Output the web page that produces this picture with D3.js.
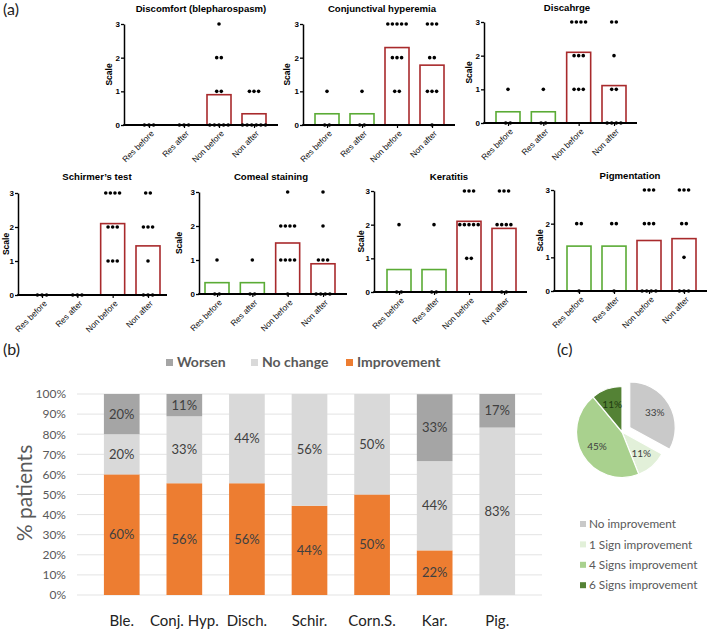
<!DOCTYPE html>
<html><head><meta charset="utf-8">
<script src="https://cdn.jsdelivr.net/npm/d3@7"></script>
<style>body{margin:0;background:#fff}svg{display:block}</style>
</head><body>
<svg id="c" width="709" height="630"></svg>
<script>
// ---------- Panel (a) data ----------
const groups = ["Res before", "Res after", "Non before", "Non after"];
const scaleTicks = [0, 1, 2, 3];
const titles = ["Discomfort (blepharospasm)", "Conjunctival hyperemia", "Discahrge",
  "Schirmer’s test", "Comeal staining", "Keratitis", "Pigmentation"];
const discomfort  = [[0,0,0], [0,0,0], [3,2,2,1,1,0,0,0,0,0], [1,1,1,0,0,0,0,0,0]];
const conjunctival = [[1,0,0], [1,0,0], [3,3,3,3,3,2,2,2,1,1], [3,3,3,2,2,1,1,1,0]];
const discharge   = [[1,0,0], [1,0,0], [3,3,3,3,2,2,2,1,1,1], [3,3,2,1,1,0,0,0,0]];
const schirmer    = [[0,0,0], [0,0,0], [3,3,3,3,2,2,2,1,1,1], [3,3,2,2,2,1,0,0,0]];
const corneal     = [[1,0,0], [1,0,0], [3,2,2,2,2,1,1,1,1,0], [3,2,1,1,1,0,0,0,0]];
const keratitis   = [[2,0,0], [2,0,0], [3,3,3,2,2,2,2,2,1,1], [3,3,3,2,2,2,2,0,0]];
const pigmentation = [[2,2,0], [2,2,0], [3,3,3,2,2,2,0,0,0,0], [3,3,3,2,2,1,0,0,0]];
const panelData = [discomfort, conjunctival, discharge, schirmer, corneal, keratitis, pigmentation];

// ---------- Panel (b) data ----------
const bCats = ["Ble.", "Conj. Hyp.", "Disch.", "Schir.", "Corn.S.", "Kar.", "Pig."];
const improvement = [60, 55.6, 55.6, 44.4, 50, 22.2, 0];
const noChange    = [20, 33.3, 44.4, 55.6, 50, 44.4, 83.3];
const worsen      = [20, 11.1, 0, 0, 0, 33.3, 16.7];
const bTicks = [0,10,20,30,40,50,60,70,80,90,100];
const bLegend = ["Worsen", "No change", "Improvement"];

// ---------- Panel (c) data ----------
const pieCats = ["No improvement", "1 Sign improvement", "4 Signs improvement", "6 Signs improvement"];
const pieVals = [33, 11, 45, 11];

// ---------- Layout ----------
const svg = d3.select("#c");
const FA = "'Liberation Sans', Arial, sans-serif";
const FB = "Lato, 'Open Sans', sans-serif";
const GREEN = "#5aab35", RED = "#a82a2c";

// chart layout: axis x, y at 3, y at 0, first & last category centres, axis end, title centre/baseline, Scale label offset
const layout = [
  {ax:124, y3:24, y0:125, c0:149, c3:254, end:278, tx:201, ty:12, sx:12},
  {ax:303, y3:24, y0:125, c0:327, c3:432, end:455, tx:382, ty:12, sx:13},
  {ax:484, y3:22, y0:123, c0:508, c3:614, end:637, tx:567, ty:11, sx:12},
  {ax:18,  y3:193, y0:295, c0:42, c3:148, end:167, tx:97, ty:180, sx:9.5},
  {ax:199, y3:192, y0:294, c0:217, c3:323, end:347, tx:271, ty:180, sx:17},
  {ax:374, y3:191, y0:292, c0:399, c3:504, end:527, tx:449, ty:180, sx:10},
  {ax:554, y3:190, y0:291, c0:579, c3:684, end:707, tx:630, ty:179, sx:11}
];

// panel labels
[["(a)",3,15],["(b)",3,355],["(c)",557,355]].forEach(([t,x,y]) =>
  svg.append("text").attr("x",x).attr("y",y).attr("font-family",FB).attr("font-size",16)
    .attr("fill","#222").text(t));

panelData.forEach((data, i) => {
  const L = layout[i];
  const g = svg.append("g");
  const x = d3.scalePoint().domain(groups).range([L.c0, L.c3]);
  const y = d3.scaleLinear().domain([0, 3]).range([L.y0, L.y3]);
  const bw = 24;
  // bars (means)
  groups.forEach((grp, j) => {
    const m = d3.mean(data[j]);
    if (m > 0) {
      g.append("rect").attr("x", x(grp) - bw/2).attr("y", y(m))
        .attr("width", bw).attr("height", y(0) - y(m))
        .attr("fill", "none").attr("stroke", j < 2 ? GREEN : RED).attr("stroke-width", 1.6);
    }
  });
  // y axis
  const ya = g.append("g").attr("transform", `translate(${L.ax},0)`)
    .call(d3.axisLeft(y).tickValues(scaleTicks).tickSize(3).tickSizeOuter(0).tickFormat(d3.format("d")));
  ya.select(".domain").attr("stroke", "#000").attr("stroke-width", 1.5);
  ya.selectAll(".tick line").attr("stroke", "#000").attr("stroke-width", 1.3);
  ya.selectAll(".tick text").attr("font-family", FA).attr("font-size", 8).attr("font-weight", "bold").attr("x", -4).attr("fill","#000");
  // x axis
  const xa = g.append("g").attr("transform", `translate(0,${L.y0})`)
    .call(d3.axisBottom(x).tickSize(3));
  xa.select(".domain").remove();
  xa.selectAll(".tick line").attr("stroke", "#000").attr("stroke-width", 1.2);
  xa.selectAll(".tick text").attr("font-family", FA).attr("font-size", 8.3).attr("fill", "#111")
    .attr("text-anchor", "end").attr("dy", "0.35em")
    .attr("transform", "translate(3,7) rotate(-45)").attr("y", 0).attr("x", 0);
  g.append("line").attr("x1", L.ax - 0.75).attr("x2", L.end).attr("y1", L.y0).attr("y2", L.y0)
    .attr("stroke", "#000").attr("stroke-width", 1.8);
  // dots
  groups.forEach((grp, j) => {
    const counts = d3.rollup(data[j], v => v.length, d => d);
    counts.forEach((k, val) => {
      for (let n = 0; n < k; n++) {
        g.append("circle").attr("cx", x(grp) + (n - (k - 1) / 2) * 4.6).attr("cy", y(val))
          .attr("r", 1.8).attr("fill", "#000");
      }
    });
  });
  // Scale label
  g.append("text").attr("transform", `translate(${L.ax - L.sx},${(L.y0 + L.y3) / 2}) rotate(-90)`)
    .attr("text-anchor", "middle").attr("font-family", FA).attr("font-size", 8.5).attr("font-weight", "bold")
    .text("Scale");
  // title
  g.append("text").attr("x", L.tx).attr("y", L.ty).attr("text-anchor", "middle")
    .attr("font-family", FA).attr("font-size", 9.6).attr("font-weight", "bold").text(titles[i]);
});

// ---------- Panel (b) ----------
const bData = bCats.map((c, i) => ({cat: c, improvement: improvement[i], noChange: noChange[i], worsen: worsen[i]}));
const bx = d3.scaleBand().domain(bCats).range([77, 542]).padding(0.43);
const by = d3.scaleLinear().domain([0, 100]).range([595, 394]);
const bColors = {improvement: "#ed7d31", noChange: "#d9d9d9", worsen: "#a5a5a5"};
const gb = svg.append("g");
gb.append("g").selectAll("line").data(bTicks).join("line")
  .attr("x1", 77).attr("x2", 542).attr("y1", d => by(d)).attr("y2", d => by(d))
  .attr("stroke", "#e3e3e3").attr("stroke-width", 1);
const ya2 = gb.append("g").attr("transform", "translate(70,0)")
  .call(d3.axisLeft(by).tickValues(bTicks).tickSize(0).tickFormat(d => d + "%"));
ya2.select(".domain").remove();
ya2.selectAll("text").attr("font-family", FB).attr("font-size", 12).attr("fill", "#595959").attr("x", -4);
const stack = d3.stack().keys(["improvement", "noChange", "worsen"]);
const series = stack(bData);
series.forEach(s => {
  gb.append("g").selectAll("rect").data(s).join("rect")
    .attr("x", d => bx(d.data.cat)).attr("width", bx.bandwidth())
    .attr("y", d => by(d[1])).attr("height", d => by(d[0]) - by(d[1]))
    .attr("fill", bColors[s.key]);
  gb.append("g").selectAll("text").data(s.filter(d => d[1] - d[0] > 0)).join("text")
    .attr("x", d => bx(d.data.cat) + bx.bandwidth() / 2)
    .attr("y", d => by((d[0] + d[1]) / 2)).attr("dy", "0.35em")
    .attr("text-anchor", "middle").attr("font-family", FB).attr("font-size", 13).attr("fill", "#404040")
    .text(d => Math.round(d[1] - d[0]) + "%");
});
const xa2 = gb.append("g").attr("transform", "translate(0,595)").call(d3.axisBottom(bx).tickSize(0));
xa2.select(".domain").remove();
xa2.selectAll("text").attr("font-family", FB).attr("font-size", 15).attr("fill", "#222").attr("y", 20);
gb.append("text").attr("transform", "translate(32,493) rotate(-90)").attr("text-anchor", "middle")
  .attr("font-family", FB).attr("font-size", 21).attr("fill", "#595959").text("% patients");
// legend (b)
const legKeys = ["worsen", "noChange", "improvement"];
const legX = [166, 251, 346];
bLegend.forEach((t, i) => {
  gb.append("rect").attr("x", legX[i]).attr("y", 359).attr("width", 7).attr("height", 7).attr("fill", bColors[legKeys[i]]);
  gb.append("text").attr("x", legX[i] + 11).attr("y", 362.5).attr("dy", "0.35em")
    .attr("font-family", FB).attr("font-size", 14).attr("font-weight", "bold").attr("fill", "#595959").text(t);
});

// ---------- Panel (c) ----------
const pieColors = ["#c9c9c9", "#e2f0d9", "#a9d18e", "#548235"];
const pie = d3.pie().sort(null).value(d => d)(pieVals);
const R = 45.5, cx = 622, cy = 432;
const arc = d3.arc().innerRadius(0).outerRadius(R);
const labArc = d3.arc().innerRadius(R * 0.64).outerRadius(R * 0.64);
const gc = svg.append("g").attr("transform", `translate(${cx},${cy})`);
pie.forEach((p, i) => {
  const mid = (p.startAngle + p.endAngle) / 2;
  const off = i === 0 ? 9 : 0;
  const gg = gc.append("g").attr("transform", `translate(${off * Math.sin(mid)},${-off * Math.cos(mid)})`);
  gg.append("path").attr("d", arc(p)).attr("fill", pieColors[i]).attr("stroke", "#fff").attr("stroke-width", 1.2);
  const [lx, ly] = labArc.centroid(p);
  gg.append("text").attr("x", lx).attr("y", ly).attr("dy", "0.35em").attr("text-anchor", "middle")
    .attr("font-family", FB).attr("font-size", 10).attr("fill", i === 3 ? "#1f3a10" : "#404040").text(Math.round(p.value) + "%");
});
pieCats.forEach((t, i) => {
  const yy = 524 + i * 20.4;
  svg.append("rect").attr("x", 580).attr("y", yy - 3).attr("width", 6).attr("height", 6).attr("fill", pieColors[i]);
  svg.append("text").attr("x", 589).attr("y", yy).attr("dy", "0.35em")
    .attr("font-family", FB).attr("font-size", 11.8).attr("fill", "#595959").text(t);
});
</script>
</body></html>
